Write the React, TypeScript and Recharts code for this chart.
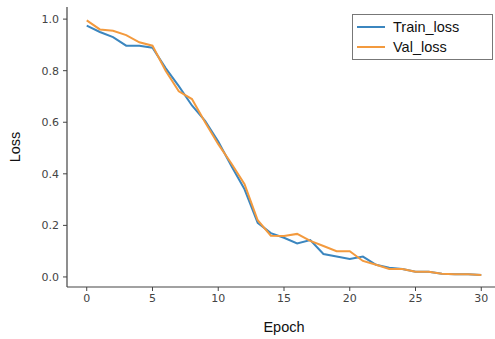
import React from 'react';
import { LineChart, Line, XAxis, YAxis } from 'recharts';

const epochs = [0,1,2,3,4,5,6,7,8,9,10,11,12,13,14,15,16,17,18,19,20,21,22,23,24,25,26,27,28,29,30];
const trainLoss = [0.975,0.95,0.93,0.897,0.897,0.889,0.81,0.74,0.665,0.605,0.525,0.43,0.34,0.21,0.17,0.152,0.13,0.143,0.089,0.079,0.07,0.079,0.047,0.036,0.031,0.02,0.02,0.012,0.01,0.01,0.008];
const valLoss = [0.995,0.96,0.955,0.938,0.91,0.897,0.80,0.72,0.69,0.60,0.515,0.44,0.36,0.22,0.16,0.159,0.167,0.14,0.12,0.10,0.10,0.062,0.047,0.031,0.031,0.02,0.02,0.012,0.01,0.01,0.008];
const xTicks = [0,5,10,15,20,25,30];
const yTicks = [0,0.2,0.4,0.6,0.8,1.0];
const seriesNames = ['Train_loss','Val_loss'];
const colors = ['#3b86bf','#f39a3e'];

const data = epochs.map((e, i) => ({ epoch: e, train: trainLoss[i], val: valLoss[i] }));

const tickStyle = { fontFamily: 'DejaVu Sans', fontSize: 11, fill: '#444' };

function LegendBox() {
  return (
    <div style={{ position: 'absolute', left: 352, top: 14, border: '1.5px solid #777', background: '#fff', width: 141, height: 46, boxSizing: 'border-box', padding: '2px 0 0 4px', fontFamily: 'Liberation Sans, Arial', fontSize: 14.5, color: '#111' }}>
      {seriesNames.map((n, i) => (
        <div key={n} style={{ display: 'flex', alignItems: 'center', height: 20 }}>
          <div style={{ width: 28, height: 2, background: colors[i], marginRight: 8 }} />
          <span>{n}</span>
        </div>
      ))}
    </div>
  );
}

export default function App() {
  return (
    <div style={{ position: 'absolute', left: 0, top: 0, width: 495, height: 339, overflow: 'hidden', background: '#fff' }}>
      <LineChart width={501} height={339} data={data} margin={{ top: 7, right: 0, bottom: 0, left: 0 }}>
        <XAxis xAxisId="top" orientation="top" dataKey="epoch" type="number" domain={[-1.5, 31.5]} tick={false} tickLine={false} height={0} axisLine={{ stroke: '#444', strokeWidth: 1.2 }} />
        <XAxis dataKey="epoch" type="number" domain={[-1.5, 31.5]} ticks={xTicks} allowDataOverflow height={52}
          tick={tickStyle} tickSize={4} tickMargin={3} tickLine={{ stroke: '#444' }} axisLine={{ stroke: '#444', strokeWidth: 1.2 }}
          label={{ value: 'Epoch', position: 'insideBottom', offset: 7, style: { fontFamily: 'Liberation Sans, Arial', fontSize: 14.5, fill: '#111' } }} />
        <YAxis type="number" domain={[-0.039, 1.047]} ticks={yTicks} allowDataOverflow width={67}
          tickFormatter={(v: number) => v.toFixed(1)}
          tick={tickStyle} tickSize={4} tickMargin={4} tickLine={{ stroke: '#444' }} axisLine={{ stroke: '#444', strokeWidth: 1.2 }}
          label={{ value: 'Loss', angle: -90, position: 'insideLeft', offset: 15, style: { fontFamily: 'Liberation Sans, Arial', fontSize: 14.5, fill: '#111', textAnchor: 'middle' } }} />
        <Line type="linear" dataKey="train" name={seriesNames[0]} stroke={colors[0]} strokeWidth={2} dot={false} isAnimationActive={false} />
        <Line type="linear" dataKey="val" name={seriesNames[1]} stroke={colors[1]} strokeWidth={2} dot={false} isAnimationActive={false} />
      </LineChart>
      <LegendBox />
    </div>
  );
}
